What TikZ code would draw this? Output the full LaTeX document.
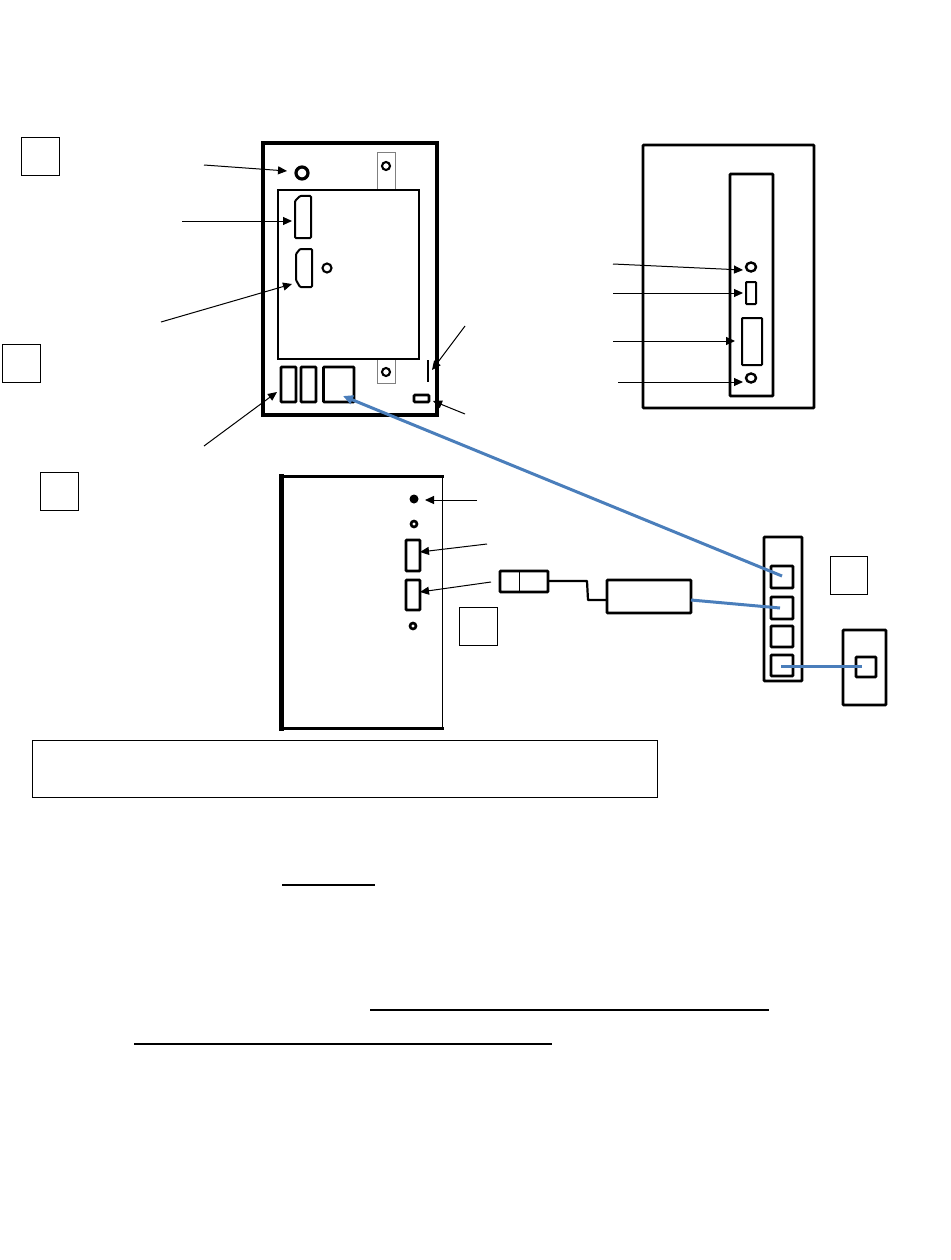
\documentclass[tikz,border=0pt]{standalone}
\usetikzlibrary{arrows.meta,shapes.geometric}
\definecolor{linkblue}{HTML}{4A7EBB}
\definecolor{tabgray}{HTML}{808080}
\newcommand{\bx}[6]{% style, name, x1, y1, x2, y2
  \pgfmathsetmacro{\bw}{#5-#3}\pgfmathsetmacro{\bh}{#6-#4}
  \pgfmathsetmacro{\bcx}{(#3+#5)/2}\pgfmathsetmacro{\bcy}{(#4+#6)/2}
  \node[#1,minimum width=\bw pt,minimum height=\bh pt] (#2) at (\bcx,\bcy) {};}
\newcommand{\ring}[5]{% style, name, x, y, r
  \node[#1,circle,minimum size=#5*2pt] (#2) at (#3,#4) {};}
\tikzset{
  x=1pt,y=-1pt,
  shp/.style={draw=black,inner sep=0pt,outer sep=0pt,fill=none},
  thick box/.style={shp,line width=2.6pt,rounded corners=0.8pt},
  mid box/.style={shp,line width=1.7pt},
  label box/.style={shp,line width=0.9pt},
  tab/.style={shp,draw=tabgray,line width=0.9pt},
  hole/.style={shp,line width=2.1pt},
  heavy hole/.style={shp,line width=3.2pt},
  pin/.style={draw=black,line width=1pt,-{Triangle[length=9pt,width=8pt]}},
  link/.style={draw=linkblue,line width=3pt},
  rule/.style={draw=black,line width=1.3pt},
  wire/.style={draw=black,line width=2.2pt,line join=round},
  wall/.style={draw=black,line cap=rect}
}
\begin{document}
\begin{tikzpicture}
\useasboundingbox (0,0) rectangle (950,1260);
% label squares
\bx{label box}{L1}{21.5}{137}{59.5}{175}
\bx{label box}{L2}{2.5}{344}{40.5}{382}
\bx{label box}{L3}{40.5}{472}{78}{510}
\bx{label box}{L4}{459.5}{607}{497}{645}
\bx{label box}{L5}{830}{556}{867.5}{594}
% top-left panel
\bx{tab}{tabT}{377}{152}{395}{190}
\bx{tab}{tabB}{377}{359}{395}{383}
\bx{shp,line width=3.2pt}{panelA}{263}{143}{437}{415}
\bx{mid box}{screenA}{278}{190}{419}{359}
\ring{hole}{holeT}{386}{166}{4}
\ring{hole}{holeB}{386}{372}{4}
\ring{heavy hole}{knob}{302}{173}{6}
\ring{hole}{holeM}{327}{268}{4.5}
\draw[thick box,line width=2pt,rounded corners=1pt] (295,238) -- (295,201) -- (300,196) -- (311,196) -- (311,238) -- cycle;
\node[inner sep=0pt,outer sep=0pt,minimum width=16pt,minimum height=42pt] (portDP) at (303,217) {};
\draw[thick box,line width=2pt,rounded corners=1pt] (312,249) -- (300,249) -- (296,254) -- (296,280) -- (300,287) -- (312,287) -- cycle;
\node[inner sep=0pt,outer sep=0pt,minimum width=16pt,minimum height=38pt] (portHD) at (304,268) {};
\bx{thick box}{usbA}{281}{367}{296}{402}
\bx{thick box}{usbB}{301}{367}{316}{402}
\bx{thick box}{lan}{323.5}{367}{354}{402}
\bx{shp,line width=2.6pt,rounded corners=1pt}{slot}{414}{395}{429}{402}
\coordinate (barT) at (428,360);
\coordinate (barB) at (428,382);
\draw[mid box] (barT) -- (barB);
% top-right panel
\bx{thick box}{panelC}{643}{145}{814}{408}
\bx{thick box}{stripC}{730}{174}{773}{396}
\node[shp,ellipse,line width=2.4pt,minimum width=10pt,minimum height=9pt] (holeC1) at (751,267) {};
\node[shp,ellipse,line width=2.4pt,minimum width=10pt,minimum height=9pt] (holeC2) at (751,378) {};
\bx{shp,line width=2pt,rounded corners=0.8pt}{portC1}{746}{282}{756}{304}
\bx{shp,line width=2pt,rounded corners=0.8pt}{portC2}{742}{318}{762}{365}
% mid panel
\coordinate (mTL) at (281,476.5);
\coordinate (mTR) at (442.5,476.5);
\coordinate (mBL) at (281,728.5);
\coordinate (mBR) at (442.5,728.5);
\draw[wall,line width=5pt] (mTL) -- (mBL);
\draw[wall,line width=3pt] (mTL) -- (mTR);
\draw[wall,line width=3pt] (mBL) -- (mBR);
\draw[wall,line width=1pt] (mTR) -- (mBR);
\node[circle,fill=black,inner sep=0pt,minimum width=8pt,minimum height=9pt] (dotB) at (414,499) {};
\ring{shp,line width=2.6pt}{holeB1}{414}{524}{3}
\ring{shp,line width=2.6pt}{holeB2}{413}{626}{3}
\bx{thick box}{portB1}{406}{540}{420}{571}
\bx{thick box}{portB2}{406}{580}{420}{610}
% connector, adapter, hub
\bx{thick box}{plug}{500}{571}{548}{592}
\coordinate (plugT) at (519,571);
\coordinate (plugB) at (519,592);
\draw[draw=black,line width=0.8pt] (plugT) -- (plugB);
\bx{thick box}{adapter}{607}{580}{691}{613}
\bx{thick box}{hub}{764}{537}{802}{681}
\bx{thick box}{hub1}{771}{566}{793}{588}
\bx{thick box}{hub2}{771}{597}{793}{619}
\bx{thick box}{hub3}{771}{626}{793}{647}
\bx{thick box}{hub4}{771}{655}{793}{676}
\bx{thick box}{wallbox}{843}{630}{886}{705}
\bx{thick box}{wallport}{856}{657}{876}{677}
\coordinate (wireA) at (548,581);
\coordinate (wireB) at (607,600);
\draw[wire] (wireA) -- (587,581) -- (588,600) -- (wireB);
% blue links
\coordinate (lanIn) at (343,396);
\coordinate (hub1c) at (782,576);
\coordinate (hub2c) at (780,608);
\coordinate (hub4c) at (781,666);
\coordinate (wallc) at (862,666);
\coordinate (adOut) at (691,600);
\draw[link,-{Triangle[length=10pt,width=9pt]}] (hub1c) -- (lanIn);
\draw[link] (adOut) -- (hub2c);
\draw[link] (hub4c) -- (wallc);
% pointer arrows
\coordinate (p1) at (204,165);  \coordinate (q1) at (287,171);
\coordinate (p2) at (182,221);  \coordinate (q2) at (292,221);
\coordinate (p3) at (161,322);  \coordinate (q3) at (292,284);
\coordinate (p4) at (465,326);  \coordinate (q4) at (432,370);
\coordinate (p5) at (465,414);  \coordinate (q5) at (433,401);
\coordinate (p6) at (204,446);  \coordinate (q6) at (277,392);
\coordinate (p7) at (613,264);  \coordinate (q7) at (743,270);
\coordinate (p8) at (613,293);  \coordinate (q8) at (743,293);
\coordinate (p9) at (613,341);  \coordinate (q9) at (735,341);
\coordinate (p10) at (618,382); \coordinate (q10) at (743,382);
\coordinate (p11) at (477,500); \coordinate (q11) at (425,500);
\coordinate (p12) at (487,544); \coordinate (q12) at (420,552);
\coordinate (p13) at (491,582); \coordinate (q13) at (420,592);
\foreach \i in {1,...,13} {\draw[pin] (p\i) -- (q\i);}
% caption box and blank underlines
\bx{label box}{caption}{32.5}{740}{657}{797}
\coordinate (u1a) at (282,885);  \coordinate (u1b) at (375,885);
\coordinate (u2a) at (370,1010); \coordinate (u2b) at (769,1010);
\coordinate (u3a) at (134,1044); \coordinate (u3b) at (552,1044);
\draw[rule] (u1a) -- (u1b);
\draw[rule] (u2a) -- (u2b);
\draw[rule] (u3a) -- (u3b);
\end{tikzpicture}
\end{document}
